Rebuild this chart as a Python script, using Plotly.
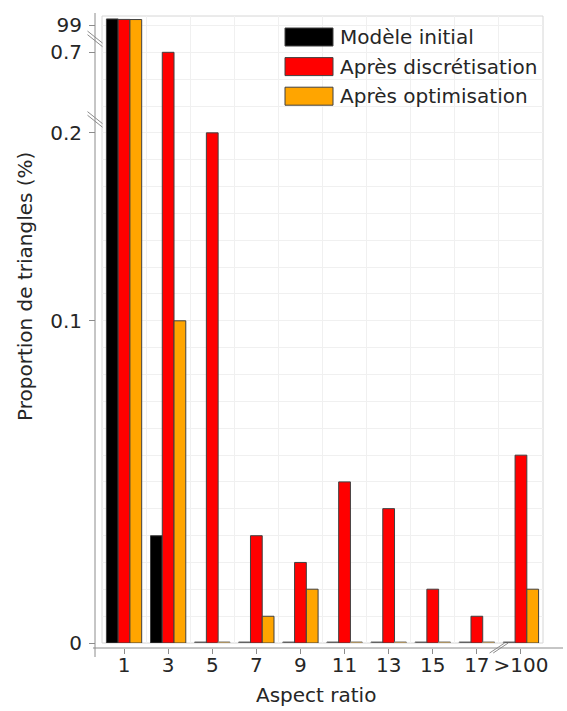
import numpy as np
import plotly.graph_objects as go

# ---------------- data ----------------
categories = ["1", "3", "5", "7", "9", "11", "13", "15", "17", ">100"]
series_names = ["Modèle initial", "Après discrétisation", "Après optimisation"]
series_colors = ["#000000", "#ff0000", "#ffa500"]
modele_initial = [99.97, 0.0333, 0, 0, 0, 0, 0, 0, 0, 0]
apres_discretisation = [99.90, 0.70, 0.20, 0.0333, 0.0250, 0.0500, 0.0417, 0.0167, 0.0083, 0.0583]
apres_optimisation = [99.88, 0.10, 0, 0.0083, 0.0167, 0, 0, 0, 0, 0.0167]
ytick_values = [0, 0.1, 0.2, 0.7, 99]
ytick_labels = ["0", "0.1", "0.2", "0.7", "99"]

# broken y scale (value in % -> display unit)
scale_v = [0, 0.1, 0.2, 0.7, 99, 100]
scale_u = [0, 12, 19, 22, 23, 23.25]


def to_disp(v):
    return np.interp(np.asarray(v, dtype=float), scale_v, scale_u)


W, H = 567, 711
PL, PR, PT, PB = 102, 543, 16, 643  # plot area in page pixels


def px(x):
    return x / W


def py(y):
    return 1 - y / H


FONT = "DejaVu Sans"
TXT = "#262626"
GRID = "#f0f0f0"
SPINE = "#8c8c8c"
FS = 20
UNIT = 26.85

xpos = list(range(len(categories)))
fig = go.Figure()
for name, color, vals in zip(series_names, series_colors,
                             [modele_initial, apres_discretisation, apres_optimisation]):
    d = to_disp(vals)
    d = np.where(d <= 0, 0.04, d)  # empty bins shown as flat outline
    lc = ["#8a8a8a" if v == 0 else "#404040" for v in vals]
    fig.add_trace(go.Bar(
        x=xpos, y=d, name=name, customdata=vals,
        marker=dict(color=color, line=dict(color=lc, width=1)),
        hovertemplate="%{customdata}%<extra>" + name + "</extra>",
        showlegend=False,
    ))

fig.update_layout(
    width=W, height=H,
    margin=dict(l=0, r=0, t=0, b=0),
    paper_bgcolor="white", plot_bgcolor="white",
    barmode="group", bargap=0.2, bargroupgap=0,
    font=dict(family=FONT, size=FS, color=TXT),
    xaxis=dict(
        domain=[px(PL), px(PR)], range=[-0.5, len(categories) - 0.5],
        anchor="free", position=py(648), automargin=False,
        tickmode="array", tickvals=xpos, ticktext=categories,
        ticks="outside", ticklen=5, tickcolor=SPINE, tickwidth=1,
        showgrid=False, zeroline=False, showline=False,
        minor=dict(tickmode="array", tickvals=[i + 0.5 for i in xpos[:-1]],
                   showgrid=True, gridcolor=GRID, ticks=""),
        tickfont=dict(size=FS, color=TXT), ticklabelstandoff=-6,
    ),
    yaxis=dict(
        domain=[py(PB), py(PT)], range=[0, (PB - PT) / UNIT],
        anchor="free", position=px(95), automargin=False,
        tickmode="array", tickvals=list(to_disp(ytick_values)), ticktext=ytick_labels,
        ticks="outside", ticklen=6, tickcolor=SPINE, tickwidth=1,
        showgrid=True, gridcolor=GRID, zeroline=False, showline=False,
        minor=dict(tickmode="linear", tick0=0, dtick=1, showgrid=True,
                   gridcolor=GRID, ticks=""),
        tickfont=dict(size=FS, color=TXT), ticklabelstandoff=3,
    ),
)

shapes = []
# plot frame
shapes.append(dict(type="rect", xref="x domain", yref="y domain", x0=0, x1=1, y0=0, y1=1,
                   line=dict(color="#d6d6d6", width=1), layer="below"))
# spines
shapes.append(dict(type="line", xref="paper", yref="paper", x0=px(95), x1=px(95),
                   y0=py(13), y1=py(657), line=dict(color=SPINE, width=1)))
shapes.append(dict(type="line", xref="paper", yref="paper", x0=px(93), x1=px(563),
                   y0=py(648), y1=py(648), line=dict(color=SPINE, width=1)))
# y-axis break marks
for u in [19.5, 22.5]:
    yc = PB - u * UNIT
    for dy in (-1.8, 1.8):
        shapes.append(dict(type="line", xref="paper", yref="paper",
                           x0=px(87.5), y0=py(yc + dy - 6), x1=px(102.5), y1=py(yc + dy + 6),
                           line=dict(color=SPINE, width=1)))
# x-axis break marks (between the last two categories)
step = (PR - PL) / len(categories)
xc = PL + step * (len(categories) - 1)
for dx in (-1.8, 1.8):
    shapes.append(dict(type="line", xref="paper", yref="paper",
                       x0=px(xc + dx - 7.5), y0=py(653), x1=px(xc + dx + 7.5), y1=py(643),
                       line=dict(color=SPINE, width=1)))

# custom legend
annotations = []
for i, (name, color) in enumerate(zip(series_names, series_colors)):
    yc = 37 + i * 29.6
    shapes.append(dict(type="rect", xref="paper", yref="paper",
                       x0=px(285), x1=px(333), y0=py(yc - 9), y1=py(yc + 9),
                       fillcolor=color, line=dict(color="#404040", width=1)))
    annotations.append(dict(xref="paper", yref="paper", x=px(338), y=py(yc),
                            text=name, showarrow=False, xanchor="left", yanchor="middle",
                            font=dict(size=FS, color=TXT)))

# axis titles
annotations.append(dict(xref="paper", yref="paper", x=px(25), y=py(287),
                        text="Proportion de triangles (%)", textangle=-90, showarrow=False,
                        xanchor="center", yanchor="middle", font=dict(size=FS, color=TXT)))
annotations.append(dict(xref="paper", yref="paper", x=px(316), y=py(695),
                        text="Aspect ratio", showarrow=False,
                        xanchor="center", yanchor="middle", font=dict(size=FS, color=TXT)))

fig.update_layout(shapes=shapes, annotations=annotations)
fig.write_html("out.html", config={"displayModeBar": False},
               post_script="document.body.style.margin='0';document.body.style.overflow='hidden';")
